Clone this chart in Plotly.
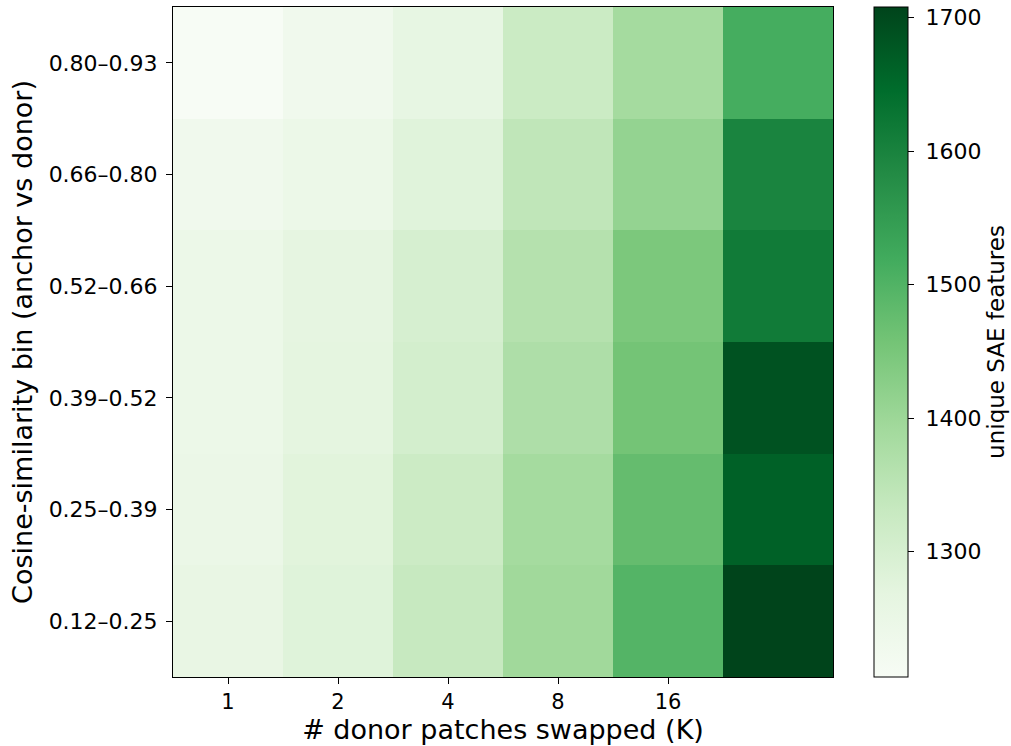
import plotly.graph_objects as go

k_labels = ["1", "2", "4", "8", "16", "32"]
k_ticks = ["1", "2", "4", "8", "16"]
bins = ["0.12–0.25", "0.25–0.39", "0.39–0.52", "0.52–0.66", "0.66–0.80", "0.80–0.93"]
cbar_ticks = [1300, 1400, 1500, 1600, 1700]

# rows bottom -> top (bins order), columns K
row_012_025 = [1256, 1281, 1331, 1394, 1496, 1708]
row_025_039 = [1248, 1276, 1321, 1387, 1476, 1663]
row_039_052 = [1246, 1269, 1306, 1373, 1457, 1686]
row_052_066 = [1246, 1266, 1300, 1362, 1446, 1615]
row_066_080 = [1231, 1246, 1279, 1343, 1412, 1598]
row_080_093 = [1207, 1231, 1261, 1323, 1388, 1515]
z = [row_012_025, row_025_039, row_039_052, row_052_066, row_066_080, row_080_093]

greens = [
    [0.0, "#f7fcf5"], [0.125, "#e5f5e0"], [0.25, "#c7e9c0"], [0.375, "#a1d99b"],
    [0.5, "#74c476"], [0.625, "#41ab5d"], [0.75, "#238b45"], [0.875, "#006d2c"],
    [1.0, "#00441b"],
]

FONT = "DejaVu Sans"

fig = go.Figure(go.Heatmap(
    z=z,
    x=list(range(len(k_labels))),
    y=list(range(len(bins))),
    colorscale=greens,
    zmin=1206, zmax=1708,
    xgap=0, ygap=0,
    colorbar=dict(
        x=(874 - 173) / 660, xanchor="left", xpad=0, ypad=0, y=0.5, yanchor="middle",
        len=1.0, lenmode="fraction", thickness=34, thicknessmode="pixels",
        outlinecolor="black", outlinewidth=1,
        tickvals=cbar_ticks, ticktext=["\u00a0" + str(v) for v in cbar_ticks],
        ticks="outside", ticklen=6, tickcolor="black",
        tickfont=dict(family=FONT, size=22, color="black"),
        title=dict(text="unique SAE features", side="right",
                   font=dict(family=FONT, size=23, color="black")),
    ),
))

fig.update_layout(
    width=1011, height=746,
    margin=dict(l=173, r=178, t=7, b=69, autoexpand=False),
    paper_bgcolor="white", plot_bgcolor="white",
    font=dict(family=FONT, color="black"),
    xaxis=dict(
        tickvals=list(range(len(k_ticks))), ticktext=k_ticks,
        range=[-0.5, 5.5], showgrid=False, zeroline=False,
        ticks="outside", ticklen=6, tickcolor="black",
        showline=True, linecolor="black", linewidth=1, mirror=True,
        tickfont=dict(family=FONT, size=21),
        title=dict(text="# donor patches swapped (K)", font=dict(family=FONT, size=27), standoff=2),
    ),
    yaxis=dict(
        tickvals=list(range(len(bins))), ticktext=bins,
        range=[-0.5, 5.5], showgrid=False, zeroline=False,
        ticks="outside", ticklen=6, tickcolor="black", ticklabelstandoff=4,
        showline=True, linecolor="black", linewidth=1, mirror=True,
        tickfont=dict(family=FONT, size=22),
        title=dict(text="Cosine-similarity bin (anchor vs donor)", font=dict(family=FONT, size=27), standoff=8),
    ),
)

fig.write_html("out.html", config={"displayModeBar": False},
               post_script="document.body.style.margin='0';document.body.style.padding='0';")
